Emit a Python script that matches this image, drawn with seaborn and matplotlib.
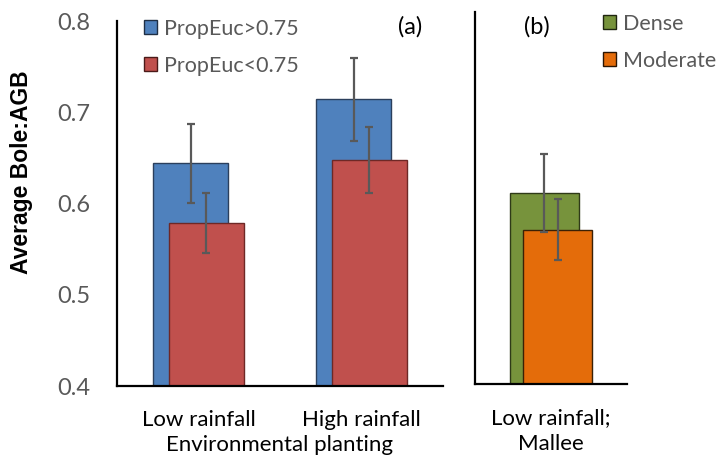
import matplotlib
matplotlib.use("Agg")
import matplotlib.pyplot as plt
from matplotlib.patches import Patch
import seaborn as sns
import numpy as np

# ---- data ----
cats_a = ["Low rainfall", "High rainfall"]
euc_hi = [0.644, 0.714]
euc_hi_err = [0.043, 0.045]
euc_lo = [0.579, 0.648]
euc_lo_err = [0.033, 0.036]
series_a = ["PropEuc>0.75", "PropEuc<0.75"]

cats_b = ["Low rainfall;\nMallee"]
dense = [0.605]
dense_err = [0.042]
moderate = [0.566]
moderate_err = [0.033]
series_b = ["Dense", "Moderate"]

yticks = [0.4, 0.5, 0.6, 0.7, 0.8]

sns.set_theme(style="white")
plt.rcParams["font.family"] = ["Lato", "DejaVu Sans"]

W, H = 718, 461
fig = plt.figure(figsize=(W / 100, H / 100), dpi=100)

def frac(x0, y0, x1, y1):
    return [x0 / W, 1 - y1 / H, (x1 - x0) / W, (y1 - y0) / H]

ax1 = fig.add_axes(frac(117, 21, 443, 386))
ax2 = fig.add_axes(frac(475, 12, 627, 384))

ERRC = "#595959"
TICKC = "#595959"

def draw_pair(ax, cats, v1, e1, v2, e2, c1, ec1, c2, ec2, width, off):
    n0 = len(ax.patches)
    sns.barplot(x=cats, y=v1, color=c1, width=width, errorbar=None, ax=ax,
                edgecolor=ec1, linewidth=1.0, saturation=1)
    for p in ax.patches[n0:]:
        p.set_x(p.get_x() - off)
    n1 = len(ax.patches)
    sns.barplot(x=cats, y=v2, color=c2, width=width, errorbar=None, ax=ax,
                edgecolor=ec2, linewidth=1.0, saturation=1)
    for p in ax.patches[n1:]:
        p.set_x(p.get_x() + off)
    pos = np.arange(len(cats))
    ax.errorbar(pos - off, v1, yerr=e1, fmt="none", ecolor=ERRC, elinewidth=1.6,
                capsize=3, capthick=1.6, zorder=5)
    ax.errorbar(pos + off, v2, yerr=e2, fmt="none", ecolor=ERRC, elinewidth=1.6,
                capsize=3, capthick=1.6, zorder=5)

draw_pair(ax1, cats_a, euc_hi, euc_hi_err, euc_lo, euc_lo_err,
          "#4F81BD", "#2b3f5c", "#C0504D", "#6e2826", 0.46, 0.047)
draw_pair(ax2, cats_b, dense, dense_err, moderate, moderate_err,
          "#77933C", "#2f3a18", "#E46C0A", "#3a2005", 0.45, 0.044)

ax1.set_xlim(-0.5, 1.5)
ax2.set_xlim(-0.5, 0.5)
for ax in (ax1, ax2):
    ax.set_ylim(0.4, 0.8)
    ax.set_yticks(yticks)
    for s in ("top", "right"):
        ax.spines[s].set_visible(False)
    for s in ("left", "bottom"):
        ax.spines[s].set_color("black")
        ax.spines[s].set_linewidth(1.6)
    ax.tick_params(axis="y", direction="in", length=7, width=1.2, color="black",
                   pad=19, labelsize=17, labelcolor=TICKC)
    ax.tick_params(axis="x", length=0, pad=17, labelsize=16, labelcolor="black")
    ax.set_ylabel("")
    ax.set_xlabel("")

ax1.set_yticklabels([f"{t:.1f}" for t in yticks])
ax2.set_yticklabels([])
for t in ax2.get_xticklabels():
    t.set_linespacing(1.4)

fig.text(22 / W, 1 - 172 / H, "Average Bole:AGB", rotation=90, fontsize=16.5,
         fontweight="bold", family=["Liberation Sans", "DejaVu Sans"],
         ha="center", va="center", color="black")
ax1.set_xlabel("Environmental planting", fontsize=16, color="black", labelpad=4)

ax1.text((410 - 117) / 326, 1 - (27 - 21) / 365, "(a)", transform=ax1.transAxes,
         fontsize=17, ha="center", va="center", color="black")
ax2.text((537 - 475) / 152, 1 - (27 - 12) / 372, "(b)", transform=ax2.transAxes,
         fontsize=17, ha="center", va="center", color="black")

h1 = [Patch(facecolor="#4F81BD", edgecolor="#1f2f45", label=series_a[0]),
      Patch(facecolor="#C0504D", edgecolor="#4a1a19", label=series_a[1])]
leg1 = fig.legend(handles=h1, loc="upper left", bbox_to_anchor=(135 / W, 1 - 10 / H),
                  frameon=False, fontsize=15.5, handlelength=0.6, handleheight=0.6,
                  handletextpad=0.35, labelspacing=0.8, borderaxespad=0)
for t in leg1.get_texts():
    t.set_color(TICKC)

h2 = [Patch(facecolor="#77933C", edgecolor="#1f2610", label=series_b[0]),
      Patch(facecolor="#E46C0A", edgecolor="#2a1503", label=series_b[1])]
leg2 = fig.legend(handles=h2, loc="upper left", bbox_to_anchor=(594 / W, 1 - 5 / H),
                  frameon=False, fontsize=15.5, handlelength=0.6, handleheight=0.6,
                  handletextpad=0.35, labelspacing=0.8, borderaxespad=0)
for t in leg2.get_texts():
    t.set_color(TICKC)

fig.savefig("out.png", dpi=100)
